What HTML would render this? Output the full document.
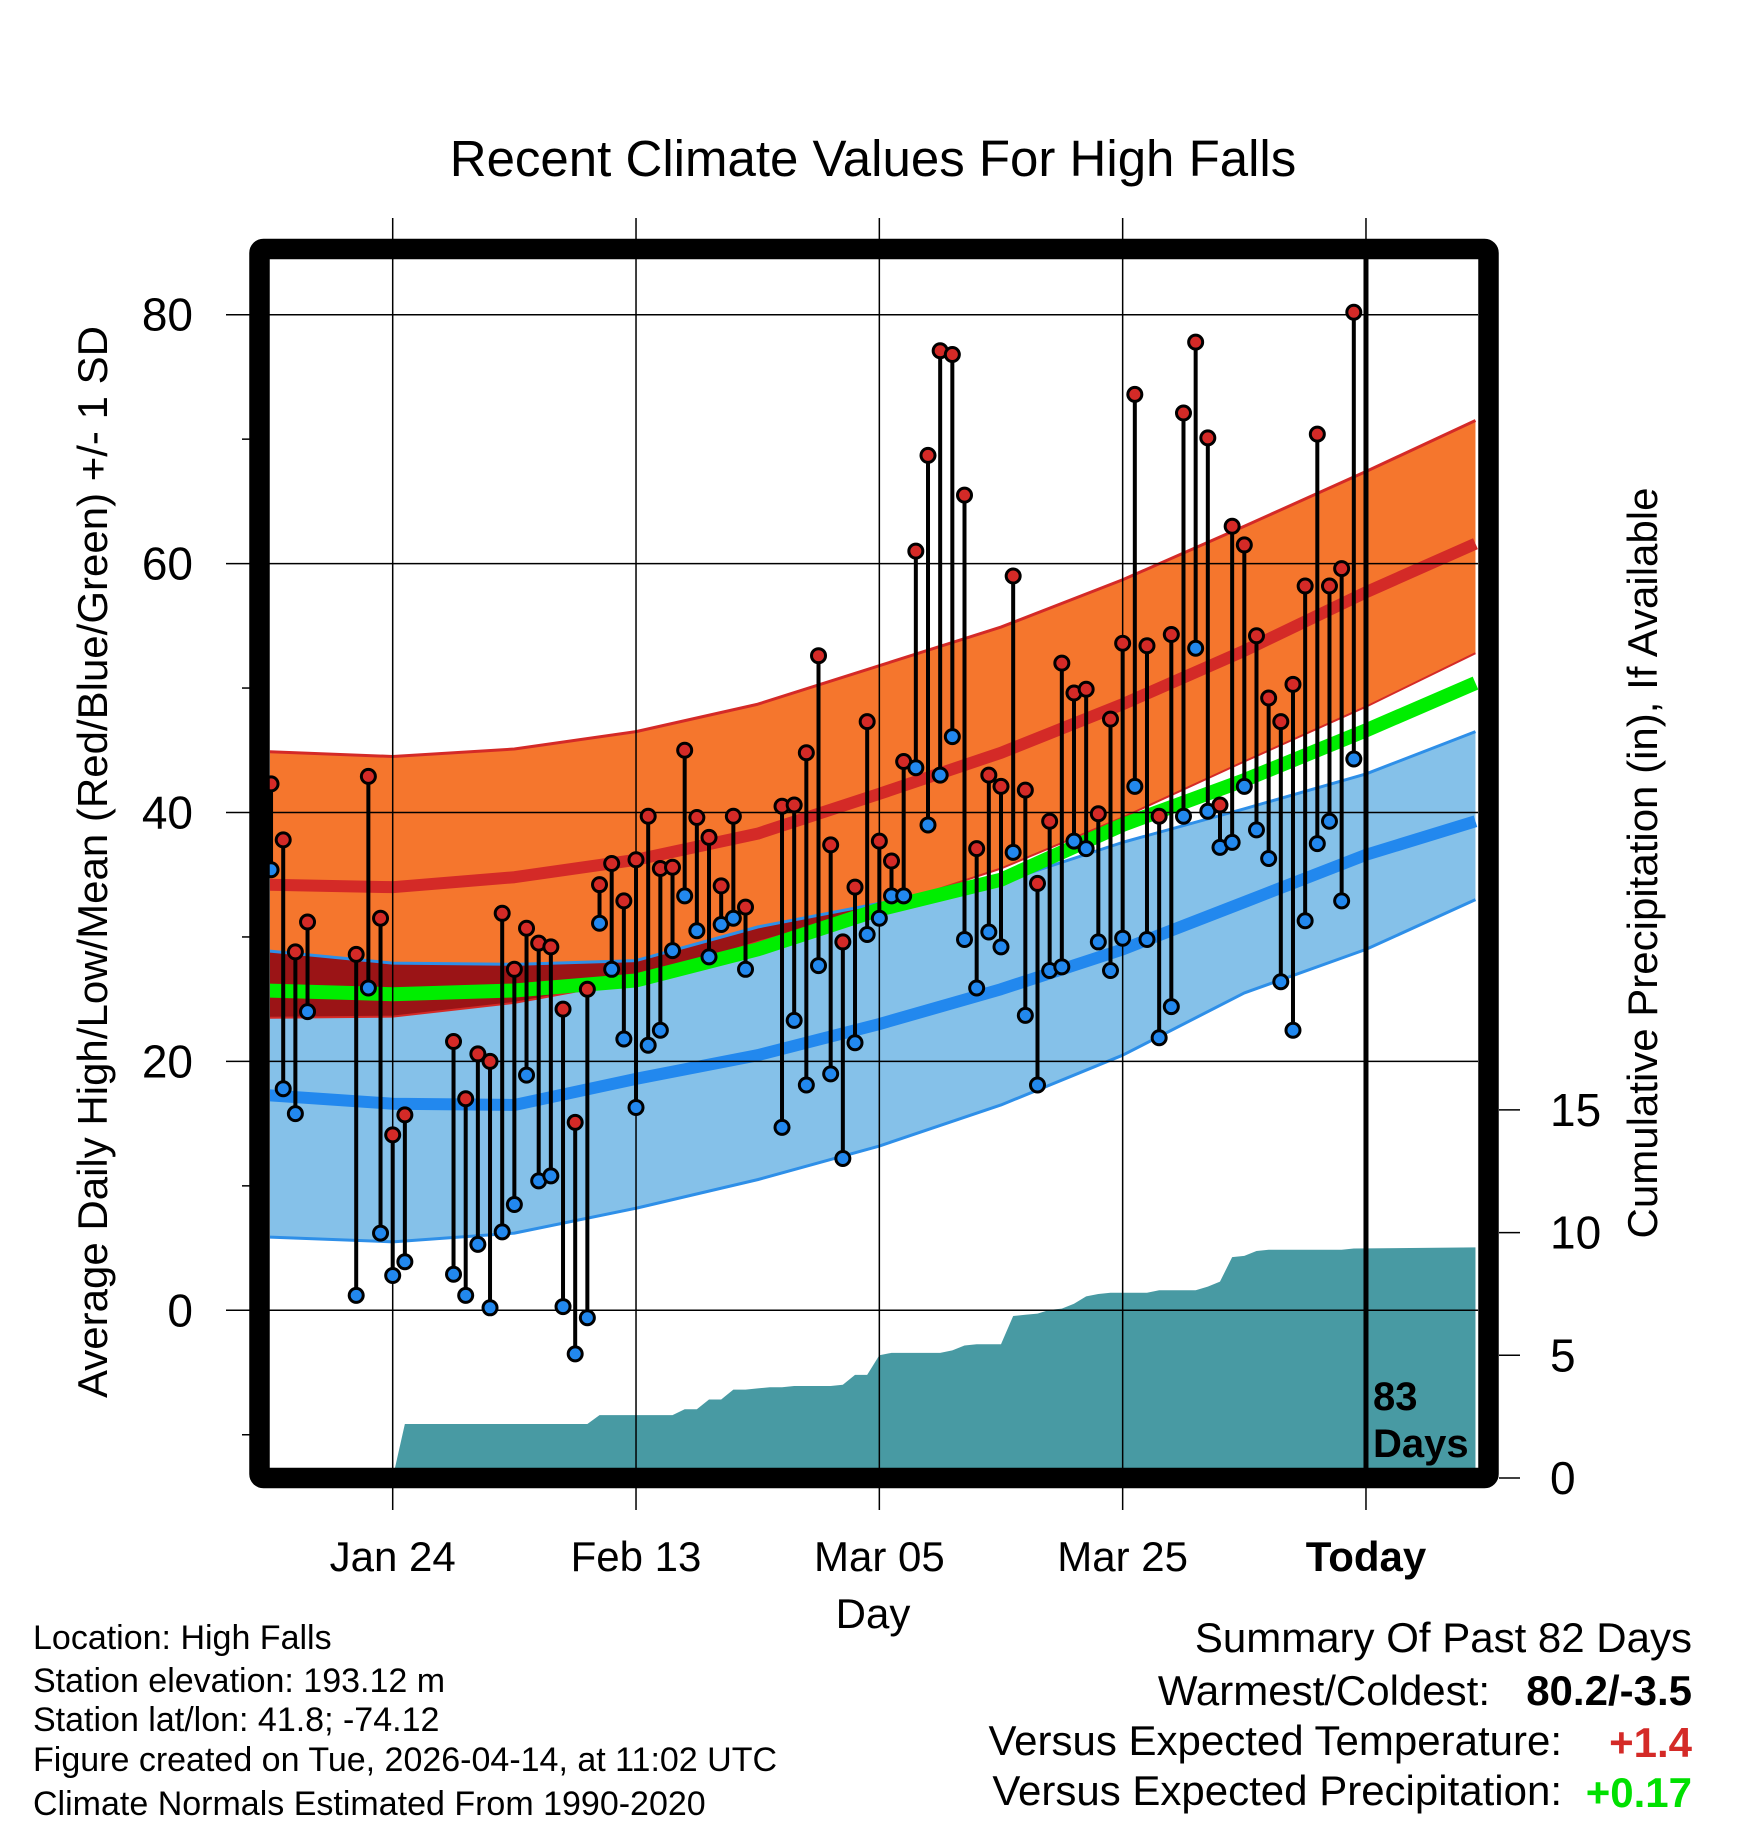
<!DOCTYPE html>
<html><head><meta charset="utf-8">
<style>
html,body{margin:0;padding:0;background:#fff;}
svg{display:block;font-family:"Liberation Sans",sans-serif;}
</style></head>
<body>
<svg id="chart" width="1748" height="1828" viewBox="0 0 1748 1828" xmlns="http://www.w3.org/2000/svg">
<text x="873" y="176" font-size="51" text-anchor="middle">Recent Climate Values For High Falls</text>
<g id="layer"></g>
</svg>
<script>
// ---- data ----
const obsDays = [-10,-9,-8,-7,-3,-2,-1,0,1,5,6,7,8,9,10,11,12,13,14,15,16,17,18,19,20,21,22,23,24,25,26,27,28,29,32,33,34,35,36,37,38,39,40,41,42,43,44,45,46,47,48,49,50,51,52,53,54,55,56,57,58,59,60,61,62,63,64,65,66,67,68,69,70,71,72,73,74,75,76,77,78,79];
const obsHigh = [42.3,37.8,28.8,31.2,28.6,42.9,31.5,14.1,15.7,21.6,17.0,20.6,20.0,31.9,27.4,30.7,29.5,29.2,24.2,15.1,25.8,34.2,35.9,32.9,36.2,39.7,35.5,35.6,45.0,39.6,38.0,34.1,39.7,32.4,40.5,40.6,44.8,52.6,37.4,29.6,34.0,47.3,37.7,36.1,44.1,61.0,68.7,77.1,76.8,65.5,37.1,43.0,42.1,59.0,41.8,34.3,39.3,52.0,49.6,49.9,39.9,47.5,53.6,73.6,53.4,39.7,54.3,72.1,77.8,70.1,40.6,63.0,61.5,54.2,49.2,47.3,50.3,58.2,70.4,58.2,59.6,80.2];
const obsLow = [35.4,17.8,15.8,24.0,1.2,25.9,6.2,2.8,3.9,2.9,1.2,5.3,0.2,6.3,8.5,18.9,10.4,10.8,0.3,-3.5,-0.6,31.1,27.4,21.8,16.3,21.3,22.5,28.9,33.3,30.5,28.4,31.0,31.5,27.4,14.7,23.3,18.1,27.7,19.0,12.2,21.5,30.2,31.5,33.3,33.3,43.6,39.0,43.0,46.1,29.8,25.9,30.4,29.2,36.8,23.7,18.1,27.3,27.6,37.7,37.1,29.6,27.3,29.9,42.1,29.8,21.9,24.4,39.7,53.2,40.1,37.2,37.6,42.1,38.6,36.3,26.4,22.5,31.3,37.5,39.3,32.9,44.3];
const normDays = [-10.5,0,10,20,30,40,50,60,70,80,89];
const normHighUpper = [44.9,44.5,45.1,46.5,48.7,51.8,54.9,58.7,63.0,67.4,71.5];
const normHighMean = [34.2,34.0,34.8,36.2,38.3,41.5,44.8,48.7,53.0,57.7,61.6];
const normHighLower = [23.5,23.6,24.7,26.5,29.6,32.3,35.5,39.6,44.1,48.5,52.8];
const normMean = [25.7,25.4,25.7,26.5,29.0,32.2,34.6,39.0,42.6,46.6,50.4];
const normLowUpper = [28.9,27.9,27.8,28.1,30.8,32.7,34.4,37.6,40.3,43.1,46.5];
const normLowMean = [17.3,16.6,16.5,18.6,20.5,23.0,25.8,29.0,32.8,36.6,39.3];
const normLowLower = [5.9,5.5,6.2,8.2,10.5,13.2,16.5,20.5,25.5,29.0,33.0];
const precipDays = [-10,-9,-8,-7,-6,-5,-4,-3,-2,-1,0,1,2,3,4,5,6,7,8,9,10,11,12,13,14,15,16,17,18,19,20,21,22,23,24,25,26,27,28,29,30,31,32,33,34,35,36,37,38,39,40,41,42,43,44,45,46,47,48,49,50,51,52,53,54,55,56,57,58,59,60,61,62,63,64,65,66,67,68,69,70,71,72,73,74,75,76,77,78,79,89];
const precipCum = [0,0,0,0,0,0,0,0,0,0,0,2.2,2.2,2.2,2.2,2.2,2.2,2.2,2.2,2.2,2.2,2.2,2.2,2.2,2.2,2.2,2.2,2.56,2.56,2.56,2.56,2.56,2.56,2.56,2.8,2.8,3.2,3.2,3.6,3.6,3.65,3.7,3.7,3.75,3.75,3.75,3.75,3.8,4.2,4.2,5.0,5.1,5.1,5.1,5.1,5.1,5.2,5.4,5.45,5.45,5.45,6.6,6.65,6.7,6.85,6.9,7.1,7.4,7.5,7.55,7.55,7.55,7.55,7.65,7.65,7.65,7.65,7.8,8.0,9.0,9.05,9.25,9.3,9.3,9.3,9.3,9.3,9.3,9.3,9.35,9.4];
const tempTicks = [0,20,40,60,80];
const tempMinor = [-10,10,30,50,70];
const precipTicks = [0,5,10,15];
const xTickDays = [0,20,40,60,80];
const xTickLabels = ["Jan 24","Feb 13","Mar 05","Mar 25","Today"];

// ---- scales ----
const L=270,R=1478,T=259,B=1468;
const xs = d => 392.7 + 12.166*d;
const ys = t => 1310.3 - 12.445*t;
const yp = p => 1478 - 24.54*p;
const NS='http://www.w3.org/2000/svg';
const layer=document.getElementById('layer');
function mk(tag,attrs,parent){const e=document.createElementNS(NS,tag);for(const k in attrs)e.setAttribute(k,attrs[k]);(parent||layer).appendChild(e);return e;}

const defs=mk('defs',{});
const cp=mk('clipPath',{id:'plotclip'},defs);
mk('rect',{x:L,y:T,width:R-L,height:B-T},cp);
const plot=mk('g',{'clip-path':'url(#plotclip)'});



function ptsOf(arrY){return normDays.map((d,i)=>xs(d)+','+ys(arrY[i]));}
function band(up,lo,fill,name){
  const p=ptsOf(up).concat(ptsOf(lo).reverse()).join(' ');
  const e=mk('polygon',{points:p,fill:fill},plot);
  
  
}
{
  let p=[xs(precipDays[0])+','+yp(0)];
  precipDays.forEach((d,i)=>p.push(xs(d)+','+yp(precipCum[i])));
  p.push(xs(precipDays[precipDays.length-1])+','+yp(0));
  const e=mk('polygon',{points:p.join(' '),fill:'#489aa3'},plot);
  
  
}
band(normHighUpper,normHighLower,'#f5762d','normal-high-band');
band(normLowUpper,normLowLower,'#85c1e9','normal-low-band');
band(normLowUpper,normLowUpper.map((u,i)=>Math.min(u,normHighLower[i])),'#9b1416','overlap-band');
function line(arr,color,w,name){
  const e=mk('polyline',{points:ptsOf(arr).join(' '),fill:'none',stroke:color,'stroke-width':w,'stroke-linejoin':'round'},plot);
  
  
}
line(normHighUpper,'#d42a27',3,'high-upper-edge');
line(normHighLower,'#d42a27',2,'high-lower-edge');
line(normLowUpper,'#2e8fe8',3,'low-upper-edge');
line(normLowLower,'#2e8fe8',3,'low-lower-edge');
line(normMean,'#00ee00',14,'normal-mean-line');
line(normHighMean,'#d42a27',12,'normal-high-line');
line(normLowMean,'#2288ee',12,'normal-low-line');

tempTicks.forEach(t=>{
  const e=mk('line',{x1:226,x2:R,y1:ys(t),y2:ys(t),stroke:'#000','stroke-width':1.5});
  
  
  const tx=mk('text',{x:193,y:ys(t)+16,'font-size':46,'text-anchor':'end'});
  tx.textContent=t;
  
  
});
tempMinor.forEach(t=>{
  const e=mk('line',{x1:242,x2:255,y1:ys(t),y2:ys(t),stroke:'#000','stroke-width':1.5});
  
  
});
xTickDays.forEach((d,i)=>{
  const e=mk('line',{x1:xs(d),x2:xs(d),y1:218,y2:1510,stroke:'#000','stroke-width':1.5});
  
  
  const tx=mk('text',{x:xs(d),y:1571,'font-size':42,'text-anchor':'middle','font-weight':i==4?'bold':'normal'});
  tx.textContent=xTickLabels[i];
  
  
});
precipTicks.forEach(p=>{
  const e=mk('line',{x1:1499,x2:1520,y1:yp(p),y2:yp(p),stroke:'#000','stroke-width':1.5});
  
  
  const tx=mk('text',{x:1550,y:yp(p)+16,'font-size':46});
  tx.textContent=p;
  
  
});

obsDays.forEach((d,i)=>{
  const e=mk('line',{x1:xs(d),x2:xs(d),y1:ys(obsHigh[i]),y2:ys(obsLow[i]),stroke:'#000','stroke-width':4});
  
  
});
obsDays.forEach((d,i)=>{
  const h=mk('circle',{cx:xs(d),cy:ys(obsHigh[i]),r:7,fill:'#d42a27',stroke:'#000','stroke-width':3});
  
  
  const l=mk('circle',{cx:xs(d),cy:ys(obsLow[i]),r:7,fill:'#2288ee',stroke:'#000','stroke-width':3});
  
  
});
{
  const e=mk('line',{x1:xs(80),x2:xs(80),y1:T,y2:B,stroke:'#000','stroke-width':5});
  
  
}
{
  const e=mk('rect',{x:259.5,y:249,width:1229,height:1229,fill:'none',stroke:'#000','stroke-width':20.5,rx:4});
  
  
}
</script>
<svg style="position:absolute;left:0;top:0" width="1748" height="1828">
<g font-family="Liberation Sans, sans-serif">
<text x="1373" y="1410" font-size="40" font-weight="bold">83</text>
<text x="1373" y="1457" font-size="40" font-weight="bold">Days</text>
<text transform="translate(107,862) rotate(-90)" font-size="42" text-anchor="middle">Average Daily High/Low/Mean (Red/Blue/Green) +/- 1 SD</text>
<text transform="translate(1657,863) rotate(-90)" font-size="42" text-anchor="middle">Cumulative Precipitation (in), If Available</text>
<text x="873" y="1628" font-size="42" text-anchor="middle">Day</text>
<text x="33" y="1649" font-size="34">Location: High Falls</text>
<text x="33" y="1692" font-size="34">Station elevation: 193.12 m</text>
<text x="33" y="1731" font-size="34">Station lat/lon: 41.8; -74.12</text>
<text x="33" y="1771" font-size="34">Figure created on Tue, 2026-04-14, at 11:02 UTC</text>
<text x="33" y="1815" font-size="34">Climate Normals Estimated From 1990-2020</text>
<text x="1692" y="1652" font-size="42" text-anchor="end">Summary Of Past 82 Days</text>
<text x="1490" y="1705" font-size="42" text-anchor="end">Warmest/Coldest:</text>
<text x="1692" y="1705" font-size="42" font-weight="bold" text-anchor="end">80.2/-3.5</text>
<text x="1562" y="1755" font-size="42" text-anchor="end">Versus Expected Temperature:</text>
<text x="1692" y="1757" font-size="42" font-weight="bold" fill="#d42a27" text-anchor="end">+1.4</text>
<text x="1562" y="1805" font-size="42" text-anchor="end">Versus Expected Precipitation:</text>
<text x="1692" y="1807" font-size="42" font-weight="bold" fill="#00e000" text-anchor="end">+0.17</text>
</g>
</svg>
</body></html>
